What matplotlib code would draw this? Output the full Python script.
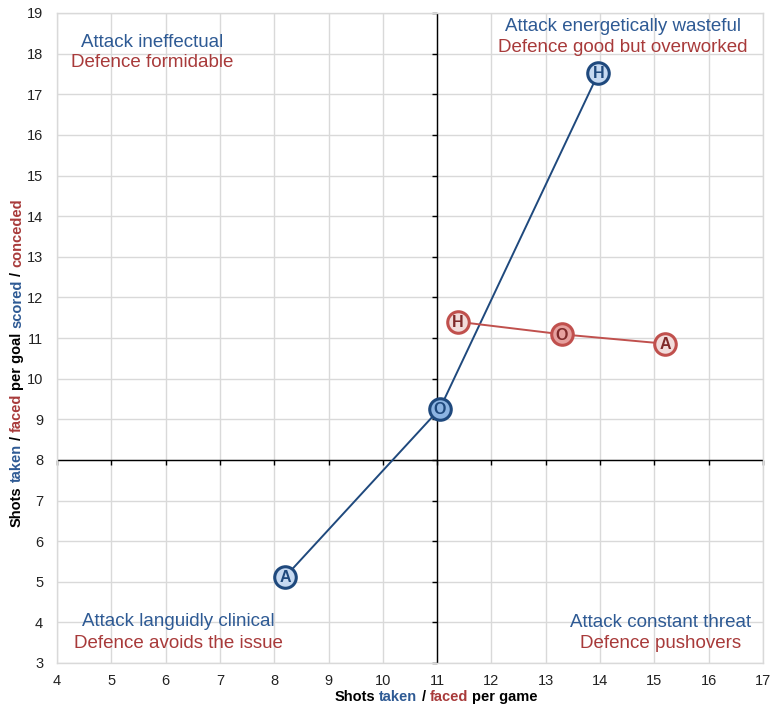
import matplotlib
matplotlib.use("Agg")
import matplotlib.pyplot as plt

plt.rcParams['font.family'] = ['Liberation Sans', 'DejaVu Sans']

# ---- data ----
attack_labels = ["A", "O", "H"]
attack_shots = [8.2, 11.05, 13.97]
attack_per_goal = [5.12, 9.26, 17.52]

defence_labels = ["H", "O", "A"]
defence_shots = [11.38, 13.30, 15.20]
defence_per_goal = [11.40, 11.09, 10.86]

x_ticks = list(range(4, 18))
y_ticks = list(range(3, 20))
x_cross = 11
y_cross = 8

quadrant_texts = [
    # (x, attack text, defence text, y attack, y defence)
    (5.75, "Attack ineffectual", "Defence formidable", 18.27, 17.78),
    (14.42, "Attack energetically wasteful", "Defence good but overworked", 18.66, 18.15),
    (6.24, "Attack languidly clinical", "Defence avoids the issue", 4.01, 3.49),
    (15.12, "Attack constant threat", "Defence pushovers", 3.99, 3.47),
]

BLUE = "#1F497D"
BLUE_TXT = "#2E5A94"
RED = "#C0504D"
RED_TXT = "#A83A3A"

fig = plt.figure(figsize=(7.72, 7.07), dpi=100)
ax = fig.add_axes([57 / 772, 1 - 663 / 707, (763 - 57) / 772, (663 - 13) / 707])

ax.set_xlim(4, 17)
ax.set_ylim(3, 19)
ax.set_xticks(x_ticks)
ax.set_yticks(y_ticks)
ax.grid(True, color="#d9d9d9", lw=1.0)
ax.set_axisbelow(True)
for s in ax.spines.values():
    s.set_color("#d9d9d9")
    s.set_linewidth(1.0)
ax.tick_params(length=0, labelsize=10.5, colors="#222222")
ax.tick_params(axis="y", pad=10)
ax.tick_params(axis="x", pad=8)

# central axes
ax.axvline(x_cross, color="black", lw=1.0, zorder=2)
ax.axhline(y_cross, color="black", lw=1.0, zorder=2)
ax.plot([x_cross] * len(y_ticks), y_ticks, ls="none", marker=0, ms=3.5, mew=1.0, color="black", zorder=2, clip_on=False)
ax.plot(x_ticks, [y_cross] * len(x_ticks), ls="none", marker=3, ms=3.5, mew=1.0, color="black", zorder=2, clip_on=False)

# series lines
ax.plot(attack_shots, attack_per_goal, color=BLUE, lw=1.4, zorder=3)
ax.plot(defence_shots, defence_per_goal, color=RED, lw=1.4, zorder=3)

def markers(xs, ys, labels, edge, fill, fill_o, txtc):
    for x, y, l in zip(xs, ys, labels):
        fc = fill_o if l == "O" else fill
        ax.plot([x], [y], marker="o", ms=15.5, mfc=fc, mec=edge, mew=2.2, ls="none", zorder=4)
        ax.text(x, y - 0.02, l, ha="center", va="center", fontsize=11.5, fontweight="bold", color=txtc, zorder=5)

markers(attack_shots, attack_per_goal, attack_labels, BLUE, "#C6D9F1", "#8DB4E2", BLUE)
markers(defence_shots, defence_per_goal, defence_labels, RED, "#F2DCDB", "#E6A09E", "#7F2A2A")

for x, t1, t2, y1, y2 in quadrant_texts:
    ax.text(x, y1, t1, ha="center", va="center", fontsize=13.5, color=BLUE_TXT)
    ax.text(x, y2, t2, ha="center", va="center", fontsize=13.5, color=RED_TXT)

# multi-coloured axis labels
fig.canvas.draw()
renderer = fig.canvas.get_renderer()
LBL_FS = 10.5

def measure(s, rot=0):
    t = fig.text(0, 0, s, fontsize=LBL_FS, fontweight="bold", rotation=rot)
    bb = t.get_window_extent(renderer)
    t.remove()
    return bb

space_w = measure("x x").width - measure("xx").width

def rich_label(pieces, cx, cy, vertical=False):
    # cx, cy in pixels from top-left
    H = 707
    rot = 90 if vertical else 0
    sizes = [measure(p, rot) for p, _ in pieces]
    lens = [(b.height if vertical else b.width) for b in sizes]
    total = sum(lens) + space_w * (len(pieces) - 1)
    pos = -total / 2
    for (p, c), L in zip(pieces, lens):
        if vertical:
            y = (H - cy) + pos + L / 2
            fig.text(cx / 772, y / 707, p, fontsize=LBL_FS, fontweight="bold", color=c,
                     rotation=90, ha="center", va="center")
        else:
            x = cx + pos + L / 2
            fig.text(x / 772, (H - cy) / 707, p, fontsize=LBL_FS, fontweight="bold", color=c,
                     ha="center", va="center")
        pos += L + space_w

rich_label([("Shots", "black"), ("taken", BLUE_TXT), ("/", "black"), ("faced", RED_TXT),
            ("per game", "black")], 436, 697)
rich_label([("Shots", "black"), ("taken", BLUE_TXT), ("/", "black"), ("faced", RED_TXT),
            ("per goal", "black"), ("scored", BLUE_TXT), ("/", "black"), ("conceded", RED_TXT)],
           17, 363, vertical=True)

fig.savefig("out.png", dpi=100)
